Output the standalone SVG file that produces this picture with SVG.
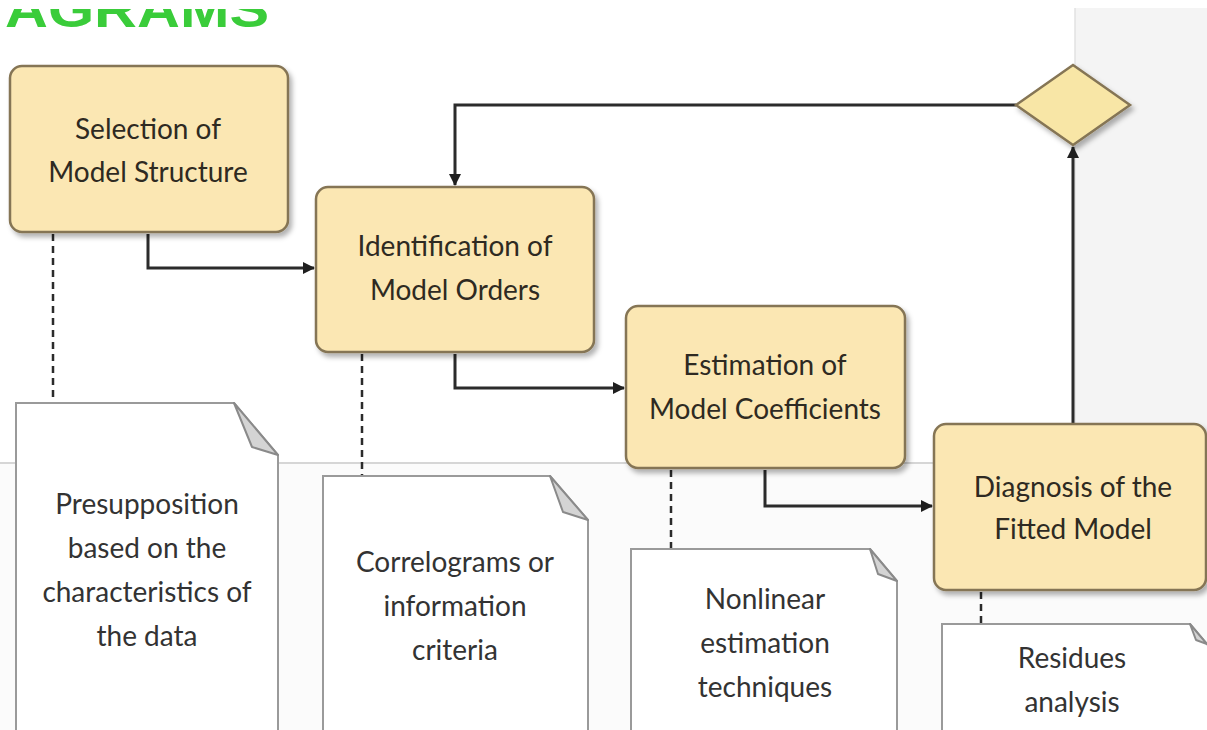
<svg xmlns="http://www.w3.org/2000/svg" width="1207" height="730" viewBox="0 0 1207 730">
  <defs>
    <style>
      .box { fill: #fbe7b3; stroke: #857554; stroke-width: 2.5; }
      .diamond { fill: #f8e6a6; stroke: #857554; stroke-width: 2.5; }
      .note { fill: #ffffff; stroke: #9a9a9a; stroke-width: 2; }
      .fold { fill: #d4d4d4; stroke: #8a8a8a; stroke-width: 2; stroke-linejoin: round; }
      .lbl { font-family: Lato, "Open Sans", "Liberation Sans", sans-serif; font-size: 28px; fill: #2e2a22; text-anchor: middle; }
      .nlbl { font-family: Lato, "Open Sans", "Liberation Sans", sans-serif; font-size: 28px; fill: #333333; text-anchor: middle; }
      .conn { fill: none; stroke: #2b2b2b; stroke-width: 3; }
      .dash { fill: none; stroke: #2b2b2b; stroke-width: 2.5; stroke-dasharray: 7 5; }
      .title { font-family: "Liberation Sans", Arial, sans-serif; font-weight: bold; font-size: 50px; fill: #3acc3a; }
    </style>
    <marker id="arr" markerWidth="12" markerHeight="12" refX="11" refY="6" orient="auto" markerUnits="userSpaceOnUse">
      <path d="M0,0 L12,6 L0,12 z" fill="#1f1f1f"/>
    </marker>
    <filter id="sh" x="-10%" y="-10%" width="130%" height="130%">
      <feDropShadow dx="3" dy="4" stdDeviation="2.5" flood-color="#000000" flood-opacity="0.3"/>
    </filter>
    <clipPath id="titleclip">
      <rect x="0" y="9" width="400" height="30"/>
    </clipPath>
  </defs>

  <rect x="0" y="0" width="1207" height="730" fill="#ffffff"/>
  <rect x="1075" y="8" width="132" height="455" fill="#f4f4f4"/>
  <rect x="0" y="463" width="1207" height="267" fill="#fbfbfb"/>
  <line x1="0" y1="463" x2="1207" y2="463" stroke="#d6d6d6" stroke-width="2"/>
  <line x1="1075" y1="8" x2="1075" y2="463" stroke="#e2e2e2" stroke-width="1.5"/>

  <g id="title">
    <text class="title" x="5" y="27" clip-path="url(#titleclip)" textLength="264" lengthAdjust="spacingAndGlyphs">AGRAMS</text>
  </g>

  <g id="connectors">
    <polyline class="conn" points="148,234 148,268 314,268" marker-end="url(#arr)"/>
    <polyline class="conn" points="455,354 455,388 624,388" marker-end="url(#arr)"/>
    <polyline class="conn" points="765,470 765,506 932,506" marker-end="url(#arr)"/>
    <polyline class="conn" points="1073,424 1073,147" marker-end="url(#arr)"/>
    <polyline class="conn" points="1016,105 455,105 455,185" marker-end="url(#arr)"/>
    <line class="dash" x1="53" y1="234" x2="53" y2="403"/>
    <line class="dash" x1="362" y1="354" x2="362" y2="476"/>
    <line class="dash" x1="671" y1="470" x2="671" y2="549"/>
    <line class="dash" x1="981" y1="592" x2="981" y2="624"/>
  </g>

  <g id="note1">
    <path class="note" d="M16,403 L234,403 L278,455 L278,732 L16,732 Z"/>
    <path class="fold" d="M234,403 L278,455 L252,447 Z"/>
    <text class="nlbl" x="147" y="514">Presupposition</text>
    <text class="nlbl" x="147" y="558">based on the</text>
    <text class="nlbl" x="147" y="602">characteristics of</text>
    <text class="nlbl" x="147" y="646">the data</text>
  </g>

  <g id="note2">
    <path class="note" d="M323,476 L550,476 L588,520 L588,732 L323,732 Z"/>
    <path class="fold" d="M550,476 L588,520 L563,512 Z"/>
    <text class="nlbl" x="455" y="572">Correlograms or</text>
    <text class="nlbl" x="455" y="616">information</text>
    <text class="nlbl" x="455" y="660">criteria</text>
  </g>

  <g id="note3">
    <path class="note" d="M631,549 L870,549 L897,581 L897,732 L631,732 Z"/>
    <path class="fold" d="M870,549 L897,581 L878,574 Z"/>
    <text class="nlbl" x="765" y="609">Nonlinear</text>
    <text class="nlbl" x="765" y="653">estimation</text>
    <text class="nlbl" x="765" y="697">techniques</text>
  </g>

  <g id="note4">
    <path class="note" d="M942,624 L1190,624 L1212,650 L1212,732 L942,732 Z"/>
    <path class="fold" d="M1190,624 L1207,644 L1196,640 Z"/>
    <text class="nlbl" x="1072" y="668">Residues</text>
    <text class="nlbl" x="1072" y="712">analysis</text>
  </g>

  <g id="selection">
    <rect class="box" x="10" y="66" width="278" height="166" rx="12" filter="url(#sh)"/>
    <text class="lbl" x="148" y="139">Selection of</text>
    <text class="lbl" x="148" y="182">Model Structure</text>
  </g>

  <g id="identification">
    <rect class="box" x="316" y="187" width="278" height="165" rx="12" filter="url(#sh)"/>
    <text class="lbl" x="455" y="256">Identification of</text>
    <text class="lbl" x="455" y="300">Model Orders</text>
  </g>

  <g id="estimation">
    <rect class="box" x="626" y="306" width="279" height="162" rx="12" filter="url(#sh)"/>
    <text class="lbl" x="765" y="375">Estimation of</text>
    <text class="lbl" x="765" y="419">Model Coefficients</text>
  </g>

  <g id="diagnosis">
    <rect class="box" x="934" y="424" width="272" height="166" rx="12" filter="url(#sh)"/>
    <text class="lbl" x="1073" y="497">Diagnosis of the</text>
    <text class="lbl" x="1073" y="539">Fitted Model</text>
  </g>

  <g id="decision">
    <polygon class="diamond" points="1016,105 1073,65 1130,105 1073,145" filter="url(#sh)"/>
  </g>
</svg>
